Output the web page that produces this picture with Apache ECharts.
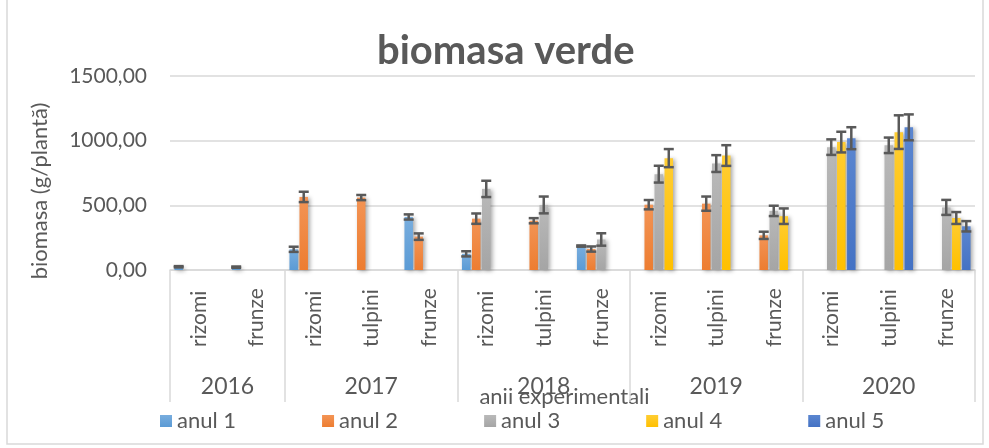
<!DOCTYPE html>
<html>
<head>
<meta charset="utf-8">
<script src="https://cdn.jsdelivr.net/npm/echarts@6/dist/echarts.min.js"></script>
<style>
  html, body { margin: 0; padding: 0; background: #fff; }
  #main { width: 989px; height: 448px; }
</style>
</head>
<body>
<div id="main"></div>
<script>
// categories, grouped by year
const categories = ['rizomi', 'frunze', 'rizomi', 'tulpini', 'frunze', 'rizomi', 'tulpini', 'frunze',
  'rizomi', 'tulpini', 'frunze', 'rizomi', 'tulpini', 'frunze'];
const years = ['2016', '2017', '2018', '2019', '2020'];
const yearSizes = [2, 3, 3, 3, 3];
const yTicks = [0, 500, 1000, 1500];

const seriesNames = ['anul 1', 'anul 2', 'anul 3', 'anul 4', 'anul 5'];
const anul1 = [25, 22, 160, null, 410, 125, null, 185, null, null, null, null, null, null];
const anul2 = [null, null, 565, 560, 258, 397, 381, 162, 505, 513, 268, null, null, null];
const anul3 = [null, null, null, null, null, 627, 503, 236, 741, 823, 457, 950, 964, 484];
const anul4 = [null, null, null, null, null, null, null, null, 865, 885, 416, 989, 1066, 402];
const anul5 = [null, null, null, null, null, null, null, null, null, null, null, 1019, 1103, 338];
// error bars (+/-)
const err1 = [5, 5, 20, null, 20, 20, null, 5, null, null, null, null, null, null];
const err2 = [null, null, 40, 20, 25, 40, 20, 20, 36, 55, 28, null, null, null];
const err3 = [null, null, null, null, null, 63, 65, 48, 65, 65, 40, 60, 60, 58];
const err4 = [null, null, null, null, null, null, null, null, 70, 80, 60, 80, 130, 46];
const err5 = [null, null, null, null, null, null, null, null, null, null, null, 85, 100, 40];

const values = [anul1, anul2, anul3, anul4, anul5];
const errors = [err1, err2, err3, err4, err5];
const colors = ['#5B9BD5', '#ED7D31', '#A5A5A5', '#FFC000', '#4472C4'];
const lighter = ['#78ADDE', '#F39455', '#B9B9B9', '#FFCD33', '#5B86D0'];

// year group boundaries and centres on a 0..14 scale
const bounds = [0];
const centres = [];
yearSizes.forEach(n => {
  const s = bounds[bounds.length - 1];
  centres.push(s + n / 2);
  bounds.push(s + n);
});

const barWidth = 8.5;
const barGapRatio = 0.18;
const pitch = barWidth * (1 + barGapRatio);

function errRenderer(idx) {
  const offset = (idx - (seriesNames.length - 1) / 2) * pitch;
  return function (params, api) {
    const v = api.value(1), e = api.value(2);
    if (v == null || isNaN(v) || e == null || isNaN(e)) return;
    const top = api.coord([api.value(0), v + e]);
    const bot = api.coord([api.value(0), v - e]);
    const x = top[0] + offset;
    const hw = 5;
    const style = { stroke: '#595959', lineWidth: 2.5 };
    return {
      type: 'group',
      children: [
        { type: 'line', shape: { x1: x, y1: top[1], x2: x, y2: bot[1] }, style: style },
        { type: 'line', shape: { x1: x - hw, y1: top[1], x2: x + hw, y2: top[1] }, style: style },
        { type: 'line', shape: { x1: x - hw, y1: bot[1], x2: x + hw, y2: bot[1] }, style: style }
      ]
    };
  };
}

const series = [];
seriesNames.forEach((name, i) => {
  series.push({
    name: name,
    type: 'bar',
    data: values[i],
    barWidth: barWidth,
    barGap: (barGapRatio * 100) + '%',
    itemStyle: {
      color: new echarts.graphic.LinearGradient(0, 0, 0, 1, [
        { offset: 0, color: lighter[i] },
        { offset: 1, color: colors[i] }
      ]),
      shadowColor: 'rgba(0,0,0,0.35)',
      shadowBlur: 4,
      shadowOffsetX: 2,
      shadowOffsetY: 1
    }
  });
});
seriesNames.forEach((name, i) => {
  series.push({
    name: name + ' err',
    type: 'custom',
    renderItem: errRenderer(i),
    encode: { x: 0, y: 1 },
    z: 5,
    data: values[i].map((v, k) => [k, v, errors[i][k]])
  });
});

const chart = echarts.init(document.getElementById('main'));
chart.setOption({
  animation: false,
  backgroundColor: '#fff',
  textStyle: { fontFamily: 'Lato' },
  title: {
    text: 'biomasa verde',
    left: 372,
    top: 26,
    textStyle: { fontFamily: 'Lato', fontSize: 40, fontWeight: 'bold', color: '#595959' }
  },
  legend: {
    data: seriesNames,
    left: 155,
    top: 405,
    itemWidth: 12,
    itemHeight: 12,
    itemGap: 86,
    icon: 'rect',
    textStyle: { fontFamily: 'Lato', fontSize: 22, color: '#595959' }
  },
  grid: { left: 170, right: 14, top: 76, bottom: 178 },
  xAxis: [
    {
      type: 'category',
      data: categories,
      axisLine: { lineStyle: { color: '#D9D9D9', width: 1.5 } },
      axisTick: { show: false },
      axisLabel: {
        interval: 0,
        rotate: 90,
        align: 'left',
        margin: 77,
        fontFamily: 'Lato',
        fontSize: 21,
        color: '#595959'
      }
    },
    {
      type: 'value',
      min: 0,
      max: categories.length,
      position: 'bottom',
      axisLine: { show: false },
      splitLine: { show: false },
      axisTick: {
        show: true,
        customValues: bounds,
        length: 132,
        lineStyle: { color: '#D9D9D9', width: 1.5 }
      },
      axisLabel: {
        customValues: centres,
        margin: 105,
        fontFamily: 'Lato',
        fontSize: 23,
        color: '#595959',
        formatter: v => years[centres.indexOf(v)] || ''
      },
      name: 'anii experimentali',
      nameLocation: 'middle',
      nameGap: 116,
      nameMoveOverlap: false,
      nameTextStyle: { fontFamily: 'Lato', fontSize: 22, color: '#595959', padding: [0, 16, 0, 0] }
    }
  ],
  yAxis: {
    type: 'value',
    min: yTicks[0],
    max: yTicks[yTicks.length - 1],
    interval: yTicks[1] - yTicks[0],
    axisLine: { show: false },
    axisTick: { show: false },
    splitLine: { lineStyle: { color: '#D9D9D9', width: 1.5 } },
    axisLabel: {
      margin: 23,
      fontFamily: 'Lato',
      fontSize: 21,
      color: '#595959',
      formatter: v => v.toFixed(2).replace('.', ',')
    }
  },
  graphic: [
    {
      type: 'rect',
      shape: { x: 7, y: -2, width: 976, height: 446 },
      style: { fill: 'none', stroke: '#D9D9D9', lineWidth: 1.5 },
      z: -1
    },
    {
      type: 'text',
      x: 40,
      y: 191,
      rotation: Math.PI / 2,
      style: {
        text: 'biomasa (g/plantă)',
        fontFamily: 'Lato',
        fontSize: 22,
        fill: '#595959',
        align: 'center',
        verticalAlign: 'middle'
      }
    }
  ],
  series: series
});
</script>
</body>
</html>
